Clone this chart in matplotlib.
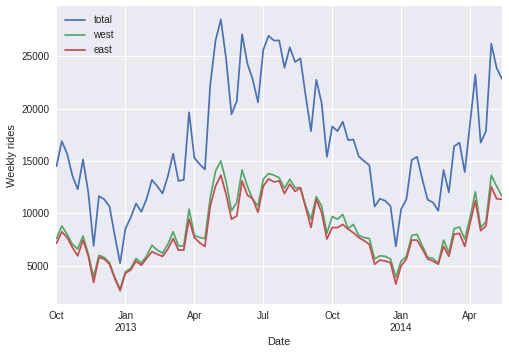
import matplotlib
matplotlib.use("Agg")
import matplotlib.pyplot as plt
import pandas as pd

# weekly totals, Fremont bridge style data
weeks = pd.date_range("2012-10-07", periods=85, freq="W")

total = [14500, 16900, 15700, 13600, 12300, 15150, 12000, 6900, 11650, 11350,
         10650, 7850, 5250, 8550, 9600, 10950, 10150, 11400, 13200, 12600,
         11900, 13550, 15700, 13100, 13200, 19650, 15300, 14700, 14200, 22300,
         26500, 28500, 24700, 19450, 20700, 27100, 24300, 22800, 20600, 25600,
         26950, 26500, 26500, 23900, 25850, 24450, 24800, 21200, 17850, 22750,
         20550, 15400, 18300, 17850, 18750, 17000, 17050, 15450, 15000, 14600,
         10650, 11400, 11200, 10700, 6850, 10400, 11350, 15100, 15400, 13250,
         11300, 11050, 10250, 14150, 12000, 16400, 16750, 13950, 18600, 23250,
         16750, 17850, 26200, 23900, 22850]

west = [7600, 8800, 8000, 7050, 6600, 7850, 6100, 3900, 6000, 5800,
        5300, 3900, 2780, 4430, 4750, 5700, 5250, 5950, 6950, 6500,
        6200, 7050, 8250, 6900, 6900, 10400, 7900, 7700, 7600, 11500,
        14050, 15000, 13000, 10250, 11050, 14150, 12600, 11350, 10700, 13250,
        13800, 13650, 13400, 12400, 13250, 12450, 12450, 10700, 9450, 11600,
        10700, 8100, 9700, 9450, 9900, 8550, 8950, 7900, 7700, 7600,
        5650, 5950, 5900, 5650, 3900, 5450, 5900, 7900, 8000, 6900,
        5800, 5700, 5250, 7450, 6250, 8550, 8700, 7550, 9600, 12050,
        8650, 9200, 13650, 12600, 11650]

east = [7150, 8250, 7700, 6750, 5950, 7450, 5950, 3400, 5800, 5650,
        5150, 3750, 2620, 4300, 4600, 5450, 5050, 5700, 6350, 6100,
        5900, 6600, 7600, 6500, 6500, 9450, 7700, 7200, 6850, 10700,
        12600, 13650, 11800, 9450, 9750, 13100, 11750, 11400, 10100, 12600,
        13300, 13000, 13100, 11900, 12800, 12100, 12450, 10550, 8650, 11350,
        10100, 7550, 8650, 8650, 8950, 8500, 8150, 7700, 7400, 7050,
        5150, 5550, 5450, 5300, 3250, 5000, 5650, 7450, 7450, 6600,
        5650, 5450, 5150, 6850, 5900, 8000, 8100, 6850, 9050, 11200,
        8350, 8800, 12550, 11400, 11350]

plt.style.use("seaborn-v0_8")
plt.rcParams["font.family"] = ["Liberation Sans", "DejaVu Sans"]
fig = plt.figure(figsize=(509 / 72, 353 / 72), dpi=72)
ax = fig.add_axes([0.111, 0.138, 0.875, 0.845])

ax.plot(weeks, total, label="total")
ax.plot(weeks, west, label="west")
ax.plot(weeks, east, label="east")

# quarter ticks like pandas period axis
ticks = [d for d in weeks if d.month in (1, 4, 7, 10) and d.day <= 7]
labels = []
for d in ticks:
    if d.month == 1:
        labels.append(d.strftime("%b") + "\n" + str(d.year))
    else:
        labels.append(d.strftime("%b"))
ax.set_xticks(ticks)
ax.set_xticklabels(labels)
ax.set_xlim(weeks[0], weeks[-1])

ax.set_xlabel("Date")
ax.set_ylabel("Weekly rides")
ax.legend(loc="upper left")

fig.savefig("out.png", dpi=72)
